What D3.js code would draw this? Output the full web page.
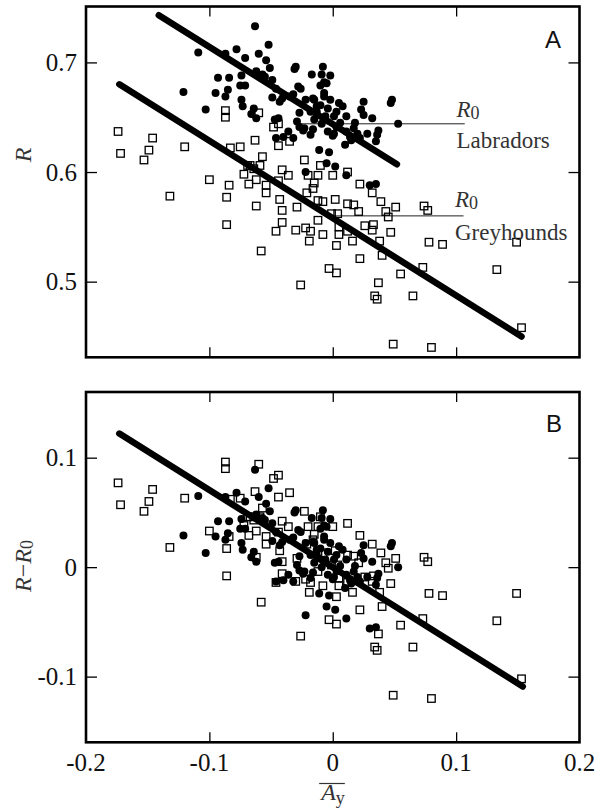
<!DOCTYPE html>
<html>
<head>
<meta charset="utf-8">
<script src="https://cdn.jsdelivr.net/npm/d3@7"></script>
<style>
  html, body { margin: 0; padding: 0; background: #fff; }
  svg { display: block; }
</style>
</head>
<body>
<svg id="chart" width="603" height="809"></svg>
<script>
// ---------------- DATA ----------------
// Labradors (filled circles): mean lateral acceleration A_y and R
const labX = [-0.063,-0.109,-0.087,-0.078,-0.071,-0.052,-0.060,-0.054,-0.051,-0.062,-0.055,-0.049,-0.093,-0.084,-0.074,
  -0.121,-0.103,-0.095,-0.087,-0.085,-0.075,-0.071,-0.074,-0.073,-0.066,-0.064,-0.062,-0.049,-0.046,-0.041,-0.043,
  -0.047,-0.044,-0.046,-0.040,-0.036,-0.032,-0.035,-0.032,-0.031,-0.030,-0.028,-0.026,-0.027,-0.029,-0.027,-0.023,
  -0.022,-0.017,-0.008,-0.002,-0.009,-0.005,-0.010,-0.007,-0.007,-0.015,-0.013,-0.018,-0.013,-0.004,-0.006,-0.015,
  -0.009,-0.004,0.001,0.003,0.005,0.008,0.011,0.006,0.011,0.014,0.015,0.017,0.020,0.018,0.023,0.025,0.025,0.028,
  0.032,0.037,0.036,0.035,0.047,0.048,0.053,-0.011,-0.003,-0.005,0.002,0.011,0.030,0.035,0.001,-0.010,-0.002,
  -0.057,-0.024,-0.016,-0.018,-0.007,0.003,0.010,0.022,0.000,-0.007,-0.022,-0.016];
const labR = [0.733,0.709,0.708,0.712,0.704,0.716,0.708,0.702,0.695,0.692,0.687,0.684,0.686,0.686,0.688,
  0.673,0.657,0.672,0.669,0.675,0.679,0.679,0.666,0.660,0.653,0.658,0.649,0.668,0.676,0.667,0.664,
  0.648,0.649,0.631,0.632,0.637,0.631,0.669,0.671,0.694,0.696,0.678,0.676,0.654,0.646,0.641,0.640,
  0.600,0.689,0.696,0.688,0.689,0.681,0.679,0.672,0.669,0.666,0.660,0.655,0.655,0.658,0.651,0.648,
  0.644,0.637,0.635,0.655,0.663,0.660,0.651,0.645,0.637,0.632,0.629,0.640,0.635,0.645,0.657,0.664,0.652,0.635,
  0.649,0.638,0.634,0.628,0.663,0.666,0.644,0.620,0.618,0.608,0.605,0.597,0.588,0.589,0.651,0.661,0.666,
  0.689,0.638,0.639,0.634,0.649,0.641,0.625,0.631,0.633,0.682,0.666,0.667];

// Greyhounds (open squares)
const greyX = [-0.174,-0.172,-0.146,-0.149,-0.153,-0.120,-0.132,-0.100,-0.087,-0.087,-0.083,-0.075,-0.063,-0.060,
  -0.086,-0.084,-0.086,-0.072,-0.069,-0.068,-0.062,-0.064,-0.062,-0.059,-0.057,-0.054,-0.054,-0.058,-0.048,-0.044,
  -0.044,-0.041,-0.044,-0.043,-0.041,-0.041,-0.046,-0.036,-0.035,-0.023,-0.029,-0.030,-0.022,-0.018,-0.019,-0.026,
  -0.021,-0.016,-0.015,-0.012,-0.010,-0.012,-0.008,-0.012,-0.008,0.002,0.000,-0.001,0.004,0.005,0.005,0.003,
  -0.003,0.003,0.012,0.012,0.017,0.021,0.022,0.012,0.016,0.026,0.032,0.033,0.032,0.038,0.039,0.040,0.022,0.037,
  0.034,0.036,0.043,0.045,0.047,0.051,0.055,0.065,0.049,0.074,0.077,0.078,0.089,0.073,0.080,0.133,0.149,0.153,
  -0.067,-0.020];
const greyR = [0.637,0.617,0.631,0.620,0.611,0.623,0.578,0.593,0.656,0.650,0.622,0.623,0.629,0.654,
  0.577,0.588,0.552,0.598,0.606,0.589,0.569,0.603,0.593,0.606,0.614,0.588,0.581,0.528,0.641,0.644,
  0.624,0.602,0.592,0.575,0.565,0.554,0.546,0.597,0.628,0.611,0.568,0.547,0.549,0.546,0.537,0.497,
  0.581,0.585,0.590,0.597,0.606,0.574,0.573,0.556,0.543,0.575,0.597,0.562,0.562,0.550,0.543,0.533,
  0.512,0.508,0.600,0.571,0.570,0.564,0.589,0.546,0.537,0.551,0.581,0.552,0.547,0.537,0.573,0.524,0.521,0.499,
  0.487,0.484,0.564,0.559,0.545,0.568,0.507,0.487,0.443,0.569,0.565,0.536,0.534,0.513,0.440,0.511,0.536,0.458,
  0.606,0.597];

// Reference levels R0 for each breed
const labR0 = 0.644;
const greyR0 = 0.560;

// Fitted lines (endpoints: [A_y, value])
const labLine  = [[-0.141, 0.743], [0.052, 0.607]];
const greyLine = [[-0.173, 0.680], [0.153, 0.450]];
const bLine    = [[-0.173, 0.122], [0.154, -0.109]];
// R0 marker segments (A_y extent)
const labR0Seg  = [-0.027, 0.107];
const greyR0Seg = [0.000, 0.106];

// Axis ticks
const xTicks = [-0.2, -0.1, 0, 0.1, 0.2];
const yTicksA = [0.5, 0.6, 0.7];
const yTicksB = [-0.1, 0, 0.1];

// ---------------- DRAW ----------------
const svg = d3.select("#chart");
const serif = "'Liberation Serif', 'Times New Roman', Times, serif";
const sans = "'Liberation Sans', Arial, sans-serif";

const x = d3.scaleLinear().domain([-0.2, 0.2]).range([86, 579.5]);
const yA = d3.scaleLinear().domain([0.431, 0.751]).range([357.3, 6.5]);
const yB = d3.scaleLinear().domain([-0.16, 0.16]).range([742.3, 392]);

const labPts = labX.map((v, i) => ({x: v, r: labR[i]}));
const greyPts = greyX.map((v, i) => ({x: v, r: greyR[i]}));

function frame(y, yTicks, showXLabels) {
  const [y0, y1] = y.range();
  const [x0, x1] = x.range();
  const g = svg.append("g");
  const inner = xTicks.filter(t => t > -0.2 && t < 0.2);
  g.append("g").attr("transform", `translate(0,${y0})`)
    .call(d3.axisTop(x).tickValues(inner).tickSize(10).tickFormat(""))
    .call(s => s.select(".domain").remove())
    .call(s => s.selectAll("line").attr("stroke-width", 1.3));
  g.append("g").attr("transform", `translate(0,${y1})`)
    .call(d3.axisBottom(x).tickValues(inner).tickSize(10).tickFormat(""))
    .call(s => s.select(".domain").remove())
    .call(s => s.selectAll("line").attr("stroke-width", 1.3));
  g.append("g").attr("transform", `translate(${x0},0)`)
    .call(d3.axisRight(y).tickValues(yTicks).tickSize(11).tickFormat(""))
    .call(s => s.select(".domain").remove())
    .call(s => s.selectAll("line").attr("stroke-width", 1.3));
  g.append("g").attr("transform", `translate(${x1},0)`)
    .call(d3.axisLeft(y).tickValues(yTicks).tickSize(11).tickFormat(""))
    .call(s => s.select(".domain").remove())
    .call(s => s.selectAll("line").attr("stroke-width", 1.3));
  g.selectAll("text.ylab").data(yTicks).enter().append("text")
    .attr("x", x0 - 9).attr("y", d => y(d)).attr("dy", "0.35em")
    .attr("text-anchor", "end").attr("font-family", serif).attr("font-size", 25)
    .attr("fill", "#111")
    .text(d => d3.format("")(d).replace("−", "-"));
  if (showXLabels) {
    g.selectAll("text.xlab").data(xTicks).enter().append("text")
      .attr("x", d => x(d)).attr("y", y0 + 29)
      .attr("text-anchor", "middle").attr("font-family", serif).attr("font-size", 25)
      .attr("fill", "#111")
      .text(d => d3.format("")(d).replace("−", "-"));
  }
  return g;
}

function drawMarkers(y, labVal, greyVal) {
  const g = svg.append("g");
  const s = 7.5;
  g.selectAll("rect.grey").data(greyPts).enter().append("rect")
    .attr("x", d => x(d.x) - s / 2).attr("y", d => y(greyVal(d)) - s / 2)
    .attr("width", s).attr("height", s)
    .attr("fill", "none").attr("stroke", "#000").attr("stroke-width", 1.3);
  g.selectAll("circle.lab").data(labPts).enter().append("circle")
    .attr("cx", d => x(d.x)).attr("cy", d => y(labVal(d))).attr("r", 4)
    .attr("fill", "#000");
}

function thickLine(y, pts) {
  svg.append("path")
    .attr("d", d3.line().x(d => x(d[0])).y(d => y(d[1]))(pts))
    .attr("stroke", "#000").attr("stroke-width", 6.5)
    .attr("stroke-linecap", "round").attr("fill", "none");
}

// ---- Panel A ----
svg.append("line").attr("x1", x(labR0Seg[0])).attr("x2", x(labR0Seg[1]))
  .attr("y1", yA(labR0)).attr("y2", yA(labR0)).attr("stroke", "#222").attr("stroke-width", 1);
svg.append("line").attr("x1", x(greyR0Seg[0])).attr("x2", x(greyR0Seg[1]))
  .attr("y1", yA(greyR0)).attr("y2", yA(greyR0)).attr("stroke", "#222").attr("stroke-width", 1);
drawMarkers(yA, d => d.r, d => d.r);
thickLine(yA, labLine);
thickLine(yA, greyLine);
frame(yA, yTicksA, false);
svg.append("rect").attr("x", 86).attr("y", 6.5).attr("width", 493.5).attr("height", 350.8)
  .attr("fill", "none").attr("stroke", "#000").attr("stroke-width", 2.6);

function r0Label(xp, yp) {
  const t = svg.append("text").attr("x", xp).attr("y", yp)
    .attr("font-family", serif).attr("font-size", 23).attr("fill", "#333");
  t.append("tspan").attr("font-style", "italic").text("R");
  t.append("tspan").attr("font-size", 18).attr("dy", 2).text("0");
}
r0Label(456.5, 117);
svg.append("text").attr("x", 456.5).attr("y", 148).attr("font-family", serif)
  .attr("font-size", 23).attr("fill", "#333").text("Labradors");
r0Label(455, 207);
svg.append("text").attr("x", 455).attr("y", 240).attr("font-family", serif)
  .attr("font-size", 23).attr("fill", "#333").text("Greyhounds");

svg.append("text").attr("x", 553).attr("y", 48).attr("text-anchor", "middle")
  .attr("font-family", sans).attr("font-size", 24).attr("fill", "#111").text("A");

svg.append("text").attr("transform", "translate(31,155) rotate(-90)")
  .attr("text-anchor", "middle").attr("font-family", serif).attr("font-size", 24)
  .attr("font-style", "italic").attr("fill", "#333").text("R");

// ---- Panel B ----
drawMarkers(yB, d => d.r - labR0, d => d.r - greyR0);
thickLine(yB, bLine);
frame(yB, yTicksB, true);
svg.append("rect").attr("x", 86).attr("y", 392).attr("width", 493.5).attr("height", 350.3)
  .attr("fill", "none").attr("stroke", "#000").attr("stroke-width", 2.6);

svg.append("text").attr("x", 554).attr("y", 432).attr("text-anchor", "middle")
  .attr("font-family", sans).attr("font-size", 24).attr("fill", "#111").text("B");

const tb = svg.append("text").attr("transform", "translate(31,566) rotate(-90)")
  .attr("text-anchor", "middle").attr("font-family", serif).attr("font-size", 24).attr("fill", "#333");
tb.append("tspan").attr("font-style", "italic").text("R");
tb.append("tspan").text("\u2212");
tb.append("tspan").attr("font-style", "italic").text("R");
tb.append("tspan").attr("font-size", 18).attr("dy", 2).text("0");

const tx = svg.append("text").attr("x", 333).attr("y", 800)
  .attr("text-anchor", "middle").attr("font-family", serif).attr("font-size", 24).attr("fill", "#333");
tx.append("tspan").attr("font-style", "italic").text("A");
tx.append("tspan").attr("font-size", 18).attr("dy", 4).text("y");
const bb = tx.node().getBBox();
svg.append("line").attr("x1", bb.x).attr("x2", bb.x + bb.width)
  .attr("y1", 783.5).attr("y2", 783.5).attr("stroke", "#333").attr("stroke-width", 1.2);
</script>
</body>
</html>
